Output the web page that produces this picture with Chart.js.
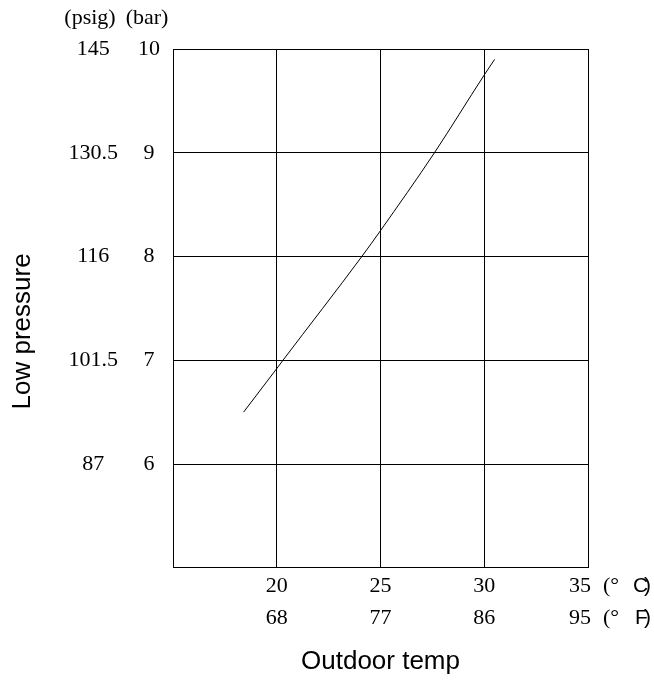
<!DOCTYPE html>
<html>
<head>
<meta charset="utf-8">
<script src="https://cdn.jsdelivr.net/npm/chart.js@4/dist/chart.umd.min.js"></script>
<style>
	html, body { margin: 0; padding: 0; background: #fff; }
	#chart-div { width: 654px; height: 681px; }
</style>
</head>
<body>
<div id="chart-div"><canvas id="pressure-chart"></canvas></div>
<script>
// curve: outdoor temp (deg C) vs low pressure (bar)
var tempC = [18.4, 20, 20.3, 24.1, 25, 27.6, 30, 30.5];
var pressureBar = [6.5, 6.92, 7, 8, 8.25, 9, 9.75, 9.9];

// tick labels
var xTicksC = [20, 25, 30, 35];
var xTicksF = [68, 77, 86, 95];
var barTicks = [6, 7, 8, 9, 10];
var psigTicks = ["87", "101.5", "116", "130.5", "145"];

var serif = "'Liberation Serif', 'Times New Roman', serif";
var sans = "'Liberation Sans', Arial, sans-serif";

var points = [];
for (var i = 0; i < tempC.length; i++) {
	points.push({x: tempC[i], y: pressureBar[i]});
}

var extraLabels = {
	id: "extraLabels",
	afterDraw: function(chart) {
		var ctx = chart.ctx;
		var xScale = chart.scales.x;
		var area = chart.chartArea;
		ctx.save();
		ctx.fillStyle = "#000";
		ctx.textBaseline = "middle";

		// column headers above the y tick labels
		ctx.font = "22px " + serif;
		ctx.textAlign = "center";
		ctx.fillText("(psig)", area.left - 83, 18);
		ctx.fillText("(bar)", area.left - 26, 18);

		// last x tick with its units
		var x35 = xScale.getPixelForValue(35);
		var row1 = xScale.top + 2 + 16;
		var row2 = row1 + 32;
		var last = xTicksC.length - 1;
		ctx.fillText(String(xTicksC[last]), x35 - 8, row1);
		ctx.fillText(String(xTicksF[last]), x35 - 8, row2);
		ctx.textAlign = "left";
		ctx.fillText("(\u00b0", x35 + 15, row1);
		ctx.fillText("(\u00b0", x35 + 15, row2);
		ctx.font = "21px " + sans;
		ctx.fillText("C", x35 + 45, row1);
		ctx.fillText("F", x35 + 47, row2);
		ctx.textAlign = "right";
		ctx.fillText(")", x35 + 63, row1);
		ctx.fillText(")", x35 + 63, row2);

		// rotated y title
		ctx.font = "26px " + sans;
		ctx.textAlign = "center";
		ctx.translate(23, (area.top + area.bottom) / 2 + 23);
		ctx.rotate(-Math.PI / 2);
		ctx.fillText("Low pressure", 0, 0);
		ctx.restore();
	}
};

var canvas = document.getElementById("pressure-chart");
var pressureChart = new Chart(canvas, {
	type: "line",
	data: {
		datasets: [{
			data: points,
			borderColor: "#000",
			borderWidth: 1,
			pointRadius: 0,
			fill: false,
			cubicInterpolationMode: "monotone"
		}]
	},
	options: {
		responsive: true,
		maintainAspectRatio: false,
		animation: false,
		layout: {
			padding: {left: 63, right: 66, top: 49, bottom: 0}
		},
		plugins: {
			legend: {display: false},
			tooltip: {enabled: false}
		},
		scales: {
			x: {
				type: "linear",
				min: 15,
				max: 35,
				grid: {color: "#000", lineWidth: 1, drawTicks: false},
				border: {color: "#000"},
				ticks: {
					stepSize: 5,
					autoSkip: false,
					maxRotation: 0,
					padding: 2,
					color: "#000",
					font: {family: serif, size: 22, lineHeight: 32 / 22},
					callback: function(value) {
						var idx = xTicksC.indexOf(value);
						if (idx === -1 || idx === xTicksC.length - 1) return "";
						return [String(xTicksC[idx]), String(xTicksF[idx])];
					}
				},
				title: {
					display: true,
					text: "Outdoor temp",
					color: "#000",
					font: {family: sans, size: 26, lineHeight: 1.2},
					padding: {top: 10, bottom: 4}
				}
			},
			y: {
				type: "linear",
				position: "left",
				weight: 1,
				min: 5,
				max: 10,
				afterFit: function(scale) { scale.width = 50; },
				grid: {color: "#000", lineWidth: 1, drawTicks: false},
				border: {color: "#000"},
				ticks: {
					stepSize: 1,
					padding: 13,
					crossAlign: "center",
					color: "#000",
					font: {family: serif, size: 22},
					callback: function(value) {
						var idx = barTicks.indexOf(value);
						return idx === -1 ? "" : String(barTicks[idx]);
					}
				}
			},
			y2: {
				type: "linear",
				position: "left",
				weight: 2,
				min: 5,
				max: 10,
				afterFit: function(scale) { scale.width = 60; },
				grid: {display: false, drawTicks: false},
				border: {display: false},
				ticks: {
					stepSize: 1,
					padding: 5,
					crossAlign: "center",
					color: "#000",
					font: {family: serif, size: 22},
					callback: function(value) {
						var idx = barTicks.indexOf(value);
						return idx === -1 ? "" : psigTicks[idx];
					}
				}
			}
		}
	},
	plugins: [extraLabels]
});
</script>
</body>
</html>
